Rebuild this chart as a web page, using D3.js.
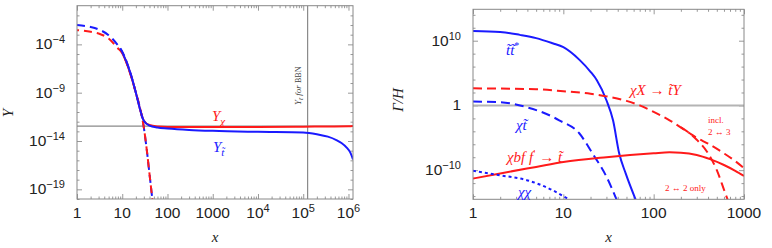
<!DOCTYPE html>
<html>
<head>
<meta charset="utf-8">
<script src="https://cdn.jsdelivr.net/npm/d3@7"></script>
<style>
  body { margin: 0; background: #fff; }
  text { fill: #222; }
</style>
</head>
<body>
<svg id="chart" width="772" height="248"></svg>
<script>
// ---------- left panel: abundances Y(x), values as log10 ----------
const eqX       = [1, 2, 3, 5, 8, 10, 15, 20, 25, 30, 35, 40, 47];
const eqChiLog  = [-2.53, -2.7, -2.87, -3.4, -4.4, -4.9, -7.0, -9.0, -10.7, -12.6, -15.0, -17.4, -20.3];
const eqStopLog = [-2.0, -2.2, -2.45, -3.05, -4.1, -4.75, -6.9, -9.0, -10.7, -12.6, -15.0, -17.4, -20.3];

const chiX   = [9, 10, 15, 20, 25, 30, 40, 60, 100, 1e3, 1e4, 1e5, 1e6, 1.26e6];
const chiLog = [-4.5, -4.9, -7.0, -9.0, -10.8, -11.9, -12.35, -12.5, -12.55, -12.55, -12.55, -12.52, -12.47, -12.45];

const stopX   = [9, 10, 15, 20, 25, 30, 40, 60, 100, 300, 1e3, 1e4, 1e5, 2e5, 3.5e5, 5.4e5, 7e5, 9e5, 1.1e6, 1.26e6];
const stopLog = [-4.4, -4.8, -6.9, -9.0, -10.8, -11.9, -12.4, -12.6, -12.7, -12.85, -12.95, -13.05, -13.12, -13.3, -13.55, -13.9, -14.2, -14.65, -15.2, -15.9];

const yRefLeft = 3.5e-13;   // horizontal grey line
const xBBN = 1.25e5;        // vertical grey line

const leftXTicks  = [1, 10, 100, 1000, 1e4, 1e5, 1e6];
const leftXLabels = ["1", "10", "100", "1000", "10^4", "10^5", "10^6"];
const leftYTicks  = [1e-4, 1e-9, 1e-14, 1e-19];
const leftYLabels = ["10^-4", "10^-9", "10^-14", "10^-19"];

// ---------- right panel: rates Gamma/H, values as log10 ----------
const rX = [1, 2, 3.3, 5, 7.6, 10, 15.2, 20, 23.5, 30, 35.5, 41.5, 49, 63];
const ttLog = [11.5, 11.35, 10.9, 10.4, 9.6, 9.0, 7.0, 5.2, 3.9, 0.8, -2.3, -7.4, -10.5, -14.5];

const chiXX = [1, 5, 10, 20, 30, 50, 70, 100, 150, 200, 250, 300, 400, 600, 800, 1000];
const chiXLog = [2.64, 2.5, 2.2, 1.8, 1.4, 0.7, 0.0, -1.0, -2.3, -3.4, -4.3, -5.0, -5.9, -7.4, -8.6, -9.7];
const chi22X = [200, 250, 300, 400, 500, 600, 660];
const chi22Log = [-3.4, -4.3, -5.3, -7.4, -10.0, -13.0, -14.6];

const chiStX  = [1, 2, 4, 7.6, 9, 15, 21, 30, 39];
const chiStLog = [0.6, 0.5, -0.3, -1.75, -2.3, -4.3, -7.4, -11.0, -14.6];

const bffX   = [1, 2, 5, 10, 30, 100, 150, 200, 300, 420, 600, 800, 1000];
const bffLog = [-11.3, -10.5, -9.5, -8.75, -8.0, -7.4, -7.25, -7.3, -7.65, -8.3, -9.2, -10.1, -10.9];

const xxX   = [1, 2, 3.85, 7.6, 11.5];
const xxLog = [-10.1, -10.8, -11.5, -13.1, -14.5];

const rightXTicks  = [1, 10, 100, 1000];
const rightXLabels = ["1", "10", "100", "1000"];
const rightYTicks  = [1e10, 1, 1e-10];
const rightYLabels = ["10^10", "1", "10^-10"];

const RED = "#ff1a1a", BLUE = "#1a1aff";
const svg = d3.select("#chart");
const pts = (xs, ls) => xs.map((x, i) => [x, Math.pow(10, ls[i])]);

function tickText(g, label) {
  const [base, exp] = label.split("^");
  g.text(base);
  if (exp) g.append("tspan").attr("dy", -6).attr("font-size", 11).text(exp.replace("-", "\u2212"));
}

function panel(cfg) {
  const g = svg.append("g");
  const x = d3.scaleLog().domain(cfg.xDomain).range(cfg.xRange);
  const y = d3.scaleLog().domain(cfg.yDomain).range(cfg.yRange);
  const [x0, x1] = cfg.xRange, [y1, y0] = cfg.yRange;

  // minor ticks every decade subdivision on x
  const xMinor = [];
  for (let d = Math.floor(Math.log10(cfg.xDomain[0])); d <= Math.log10(cfg.xDomain[1]); d++)
    for (let k = 2; k <= 9; k++) { const v = k * Math.pow(10, d); if (v < cfg.xDomain[1]) xMinor.push(v); }

  const mk = (axis, tr) => {
    const a = g.append("g").attr("transform", tr).call(axis);
    a.select(".domain").remove();
    a.selectAll("line").attr("stroke", "#999");
  };
  mk(d3.axisBottom(x).tickValues(cfg.xTicks).tickSize(-5).tickFormat(""), `translate(0,${y1})`);
  mk(d3.axisTop(x).tickValues(cfg.xTicks).tickSize(-5).tickFormat(""), `translate(0,${y0})`);
  mk(d3.axisBottom(x).tickValues(xMinor).tickSize(-2.5).tickFormat(""), `translate(0,${y1})`);
  mk(d3.axisTop(x).tickValues(xMinor).tickSize(-2.5).tickFormat(""), `translate(0,${y0})`);
  mk(d3.axisLeft(y).tickValues(cfg.yTicks).tickSize(-5).tickFormat(""), `translate(${x0},0)`);
  mk(d3.axisRight(y).tickValues(cfg.yTicks).tickSize(-5).tickFormat(""), `translate(${x1},0)`);
  mk(d3.axisLeft(y).tickValues(cfg.yMinor).tickSize(-2.5).tickFormat(""), `translate(${x0},0)`);
  mk(d3.axisRight(y).tickValues(cfg.yMinor).tickSize(-2.5).tickFormat(""), `translate(${x1},0)`);

  // tick labels
  cfg.xTicks.forEach((v, i) => {
    g.append("text").attr("x", x(v)).attr("y", y1 + 19).attr("text-anchor", "middle")
      .attr("font-family", "Liberation Sans, Arial, sans-serif").attr("font-size", 15.5)
      .call(t => tickText(t, cfg.xLabels[i]));
  });
  cfg.yTicks.forEach((v, i) => {
    g.append("text").attr("x", x0 - 12).attr("y", y(v) + 5).attr("text-anchor", "end")
      .attr("font-family", "Liberation Sans, Arial, sans-serif").attr("font-size", 15.5)
      .call(t => tickText(t, cfg.yLabels[i]));
  });
  // axis titles
  g.append("text").attr("x", (x0 + x1) / 2).attr("y", 242).attr("text-anchor", "middle")
    .attr("font-family", "Liberation Serif, serif").attr("font-style", "italic").attr("font-size", 15).text("x");
  g.append("text").attr("transform", `translate(${cfg.yTitleX},${cfg.yTitleY}) rotate(-90)`)
    .attr("text-anchor", "middle").attr("font-family", "Liberation Serif, serif")
    .attr("font-style", "italic").attr("font-size", 15).text(cfg.yTitle);

  const clipId = "clip" + cfg.id;
  g.append("clipPath").attr("id", clipId).append("rect")
    .attr("x", x0).attr("y", y0).attr("width", x1 - x0).attr("height", y1 - y0);
  const plot = g.append("g").attr("clip-path", `url(#${clipId})`);
  const line = d3.line().x(d => x(d[0])).y(d => y(d[1])).curve(d3.curveMonotoneX);

  g.append("rect").attr("x", x0).attr("y", y0).attr("width", x1 - x0).attr("height", y1 - y0)
    .attr("fill", "none").attr("stroke", "#888").attr("stroke-width", 1);
  return { g, plot, x, y, line };
}

// ================= left panel =================
const L = panel({
  id: "L", xDomain: [1, Math.pow(10, 6.1)], xRange: [77, 353],
  yDomain: [1e-20, 1], yRange: [199, 5.7],
  xTicks: leftXTicks, xLabels: leftXLabels, yTicks: leftYTicks, yLabels: leftYLabels,
  yMinor: d3.range(-20, 0).filter(e => (e + 4) % 5 !== 0).map(e => Math.pow(10, e)),
  yTitle: "Y", yTitleX: 13, yTitleY: 113
});
L.plot.append("line").attr("x1", 77).attr("x2", 353).attr("y1", L.y(yRefLeft)).attr("y2", L.y(yRefLeft))
  .attr("stroke", "#8a8a8a").attr("stroke-width", 1.2);
L.plot.append("line").attr("x1", L.x(xBBN)).attr("x2", L.x(xBBN)).attr("y1", 5.7).attr("y2", 199)
  .attr("stroke", "#8a8a8a").attr("stroke-width", 1.2);
L.plot.append("path").attr("d", L.line(pts(eqX, eqStopLog))).attr("fill", "none")
  .attr("stroke", BLUE).attr("stroke-width", 2).attr("stroke-dasharray", "8,5");
L.plot.append("path").attr("d", L.line(pts(eqX, eqChiLog))).attr("fill", "none")
  .attr("stroke", RED).attr("stroke-width", 2).attr("stroke-dasharray", "8,5").attr("stroke-dashoffset", 6);
L.plot.append("path").attr("d", L.line(pts(chiX, chiLog))).attr("fill", "none")
  .attr("stroke", RED).attr("stroke-width", 2);
L.plot.append("path").attr("d", L.line(pts(stopX, stopLog))).attr("fill", "none")
  .attr("stroke", BLUE).attr("stroke-width", 2);

const serif = "Liberation Serif, serif";
L.g.append("text").attr("x", 212).attr("y", 121).attr("font-family", serif).attr("font-size", 15)
  .style("fill", RED)
  .call(t => { t.append("tspan").attr("font-style", "italic").text("Y");
               t.append("tspan").attr("dy", 4).attr("font-size", 11).attr("font-style", "italic").text("\u03c7"); });
L.g.append("text").attr("x", 213).attr("y", 152).attr("font-family", serif).attr("font-size", 15)
  .style("fill", BLUE)
  .call(t => { t.append("tspan").attr("font-style", "italic").text("Y");
               t.append("tspan").attr("dy", 4).attr("font-size", 11).attr("font-style", "italic").text("t\u0303"); });
L.g.append("text").attr("transform", "translate(301,105) rotate(-90)").attr("font-family", serif)
  .attr("font-size", 9).style("fill", "#444")
  .call(t => { t.append("tspan").attr("font-style", "italic").text("Y");
               t.append("tspan").attr("dy", 2).attr("font-size", 7).attr("font-style", "italic").text("t\u0303");
               t.append("tspan").attr("dy", -2).attr("font-style", "italic").text(" for ");
               t.append("tspan").attr("font-size", 8).text("BBN"); });

// ================= right panel =================
const R = panel({
  id: "R", xDomain: [1, 1000], xRange: [473, 744],
  yDomain: [Math.pow(10, -14.5), Math.pow(10, 14.85)], yRange: [199.3, 9.3],
  xTicks: rightXTicks, xLabels: rightXLabels, yTicks: rightYTicks, yLabels: rightYLabels,
  yMinor: d3.range(-14, 15, 2).filter(e => e % 10 !== 0).map(e => Math.pow(10, e)),
  yTitle: "\u0393/H", yTitleX: 403, yTitleY: 100
});
R.plot.append("line").attr("x1", 473).attr("x2", 744).attr("y1", R.y(1)).attr("y2", R.y(1))
  .attr("stroke", "#b4b4b4").attr("stroke-width", 2);
const rl = (xs, ls, col, dash) => R.plot.append("path").attr("d", R.line(pts(xs, ls))).attr("fill", "none")
  .attr("stroke", col).attr("stroke-width", 2).attr("stroke-dasharray", dash || null);
rl(rX, ttLog, BLUE);
rl(chiXX, chiXLog, RED, "9,5");
rl(chi22X, chi22Log, RED, "9,5");
rl(chiStX, chiStLog, BLUE, "9,5");
rl(bffX, bffLog, RED);
rl(xxX, xxLog, BLUE, "3,3");

const lab = (xp, yp, col, parts, size) => R.g.append("text").attr("x", xp).attr("y", yp)
  .attr("font-family", serif).attr("font-size", size || 15).style("fill", col)
  .call(t => parts.forEach(p => t.append("tspan").attr("font-style", p[1] ? "italic" : "normal")
    .attr("dy", p[2] || 0).attr("font-size", p[3] || null).text(p[0])));
lab(506, 55, BLUE, [["t\u0303t\u0303", 1], ["*", 0, -6, 10]]);
lab(630, 95, RED, [["\u03c7X", 1], [" \u2192 ", 0], ["t\u0303Y", 1]]);
lab(516, 130, BLUE, [["\u03c7t\u0303", 1]]);
lab(507, 162, RED, [["\u03c7bf f", 1], ["\u2032", 0, -5, 10], [" \u2192 ", 0, 5], ["t\u0303", 1]]);
lab(518, 197, BLUE, [["\u03c7\u03c7", 1]]);
lab(708, 123, RED, [["incl.", 0]], 9);
lab(708, 135, RED, [["2 \u2194 3", 0]], 9);
lab(665, 191, RED, [["2 \u2194 2 only", 0]], 9);
</script>
</body>
</html>
